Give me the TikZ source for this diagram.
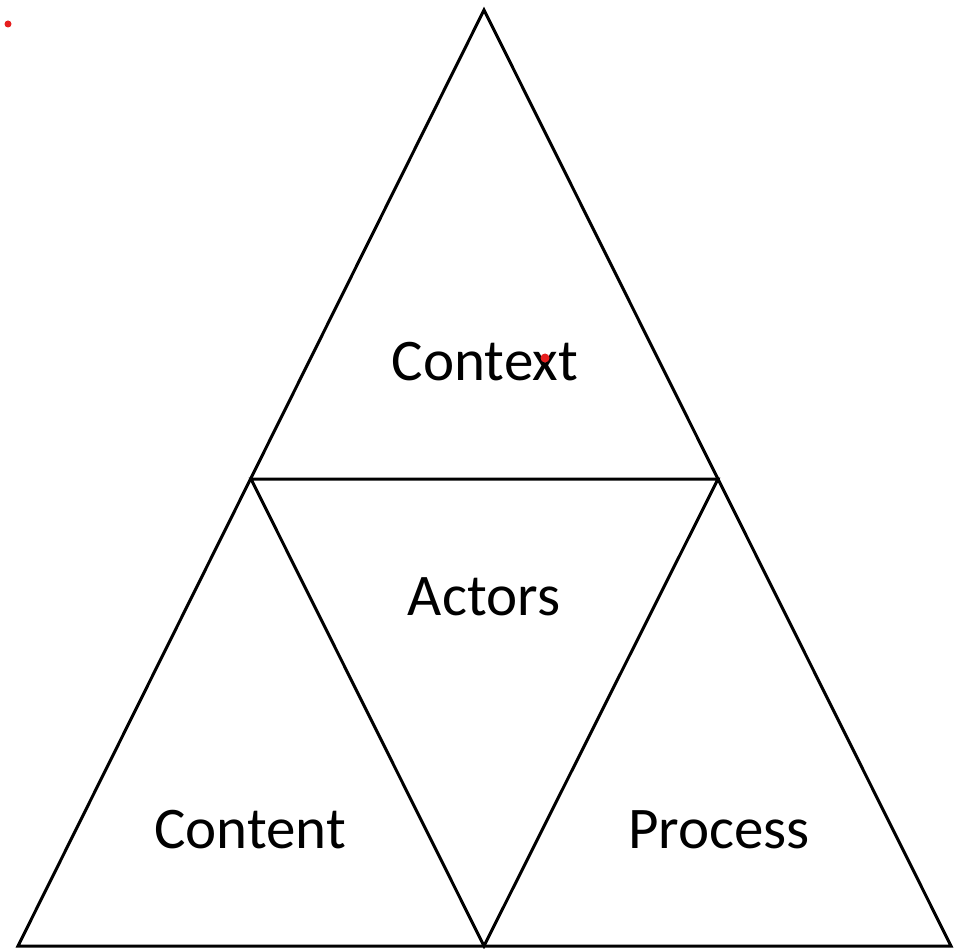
\documentclass[tikz,border=0pt]{standalone}
\usepackage{fontspec}
\setmainfont{Carlito}
\tikzset{every picture/.style={line width=3pt}}
\tikzset{lbl/.style={inner sep=0.75pt,font=\fontsize{59}{70}\selectfont}}
\tikzset{reddot/.style={fill={rgb, 255:red, 230; green, 30; blue, 30 },draw=none}}

\begin{document}
\begin{tikzpicture}[x=1pt,y=1pt,yscale=-1,xscale=1]
	\useasboundingbox (0,0) rectangle (958,949);

	%Corners
	\coordinate (apex) at (484,10);
	\coordinate (midL) at (251,479);
	\coordinate (midR) at (718,479);
	\coordinate (botL) at (18,946);
	\coordinate (botM) at (484,946);
	\coordinate (botR) at (951,946);

	%Shape: Triangle outer
	\draw [line join=miter] (apex) -- (botR) -- (botL) -- cycle ;
	%Shape: Triangle inner
	\draw [line join=miter] (midL) -- (midR) -- (botM) -- cycle ;

	% Text Node
	\node [lbl] (context) at (485,362) {Context};
	% Text Node
	\node [lbl] (actors) at (484,597) {Actors};
	% Text Node
	\node [lbl] (content) at (250,830) {Content};
	% Text Node
	\node [lbl] (process) at (719,830) {Process};

	%Red dots
	\fill [reddot] (8,24) circle (3.5pt);
	\fill [reddot] (545,358) circle (4.5pt);
\end{tikzpicture}
\end{document}
